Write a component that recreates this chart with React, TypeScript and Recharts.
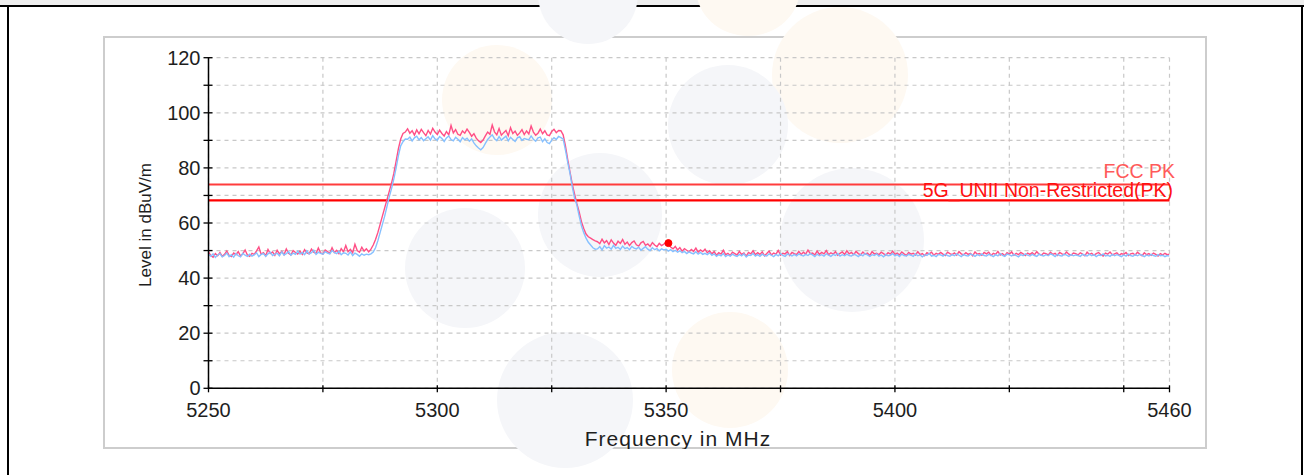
import React from 'react';
import { LineChart, Line, XAxis, YAxis, CartesianGrid, ReferenceLine, ReferenceDot, Label } from 'recharts';

// Sweep: 5250 .. 5460 MHz, one reading every 0.5 MHz
const FREQ_START = 5250;
const FREQ_STEP = 0.5;

// ---- Peak trace (red) ----
const PK_LOW = [
  49.5, 48.2, 47.6, 48.9, 48.1, 49.3, 47.9, 48.6, 49.8, 48.3, 47.8, 49.1, 48.5, 49.6, 48.0, 48.8, 50.2, 48.4, 47.9, 49.0,
  48.6, 49.9, 51.3, 48.7, 49.2, 48.1, 50.4, 48.9, 49.5, 48.3, 50.1, 48.8, 49.7, 48.5, 50.6, 49.0, 48.4, 50.0, 49.3, 48.7,
  49.8, 48.6, 50.3, 49.1, 48.8, 50.5, 49.4, 48.9, 50.9, 49.2, 48.7, 50.2, 49.6, 49.0, 51.0, 49.3, 50.1, 48.9, 50.7, 49.5,
  51.8, 49.6, 50.4, 49.2, 52.3, 50.0, 49.4, 51.2, 49.8, 50.6,
];
const PK_RISE = [49.5, 50.5, 52, 54, 56.5, 59.5, 62.5, 65.5, 68.5, 71.5, 74.5, 78, 82.5, 87, 90.5, 92.5, 93];
const PK_TOP = [
  94.2, 92.6, 93.5, 91.9, 93.8, 92.4, 94.0, 92.8, 91.7, 93.6, 92.3, 94.4, 93.0,
  92.1, 93.7, 92.5, 91.6, 93.2, 92.0, 95.4, 92.7, 93.9, 92.2, 91.8, 93.4, 92.6, 94.1, 92.9, 91.5, 92.4, 90.8, 89.9, 89.2,
  90.1, 91.6, 93.0, 92.2, 95.6, 93.1, 92.0, 94.3, 91.9, 92.8, 93.6, 91.7, 94.6, 92.5, 93.3, 91.8, 92.7, 93.9, 92.1, 93.4,
  92.3, 95.2, 93.0, 91.9, 92.6, 94.1, 92.4, 93.5, 92.0, 91.7, 93.2, 94.0, 92.8, 93.6,
];
const PK_FALL = [93.5, 92, 88, 83, 78.5, 74, 70.5, 67, 64, 60.5, 58, 56, 55, 54.5, 54, 53.5];
const PK_SHOULDER = [
  53.2, 52.5, 54.1, 52.8, 53.6, 52.2, 53.9, 52.7, 51.9, 53.4, 52.6, 54.0, 52.3, 53.1, 51.8, 52.9, 53.5, 52.1, 51.6, 52.8,
  53.3, 51.9, 52.4, 51.5, 52.9, 52.0, 51.4, 52.6, 51.8, 52.3,
];
const PK_DECAY = [
  53.0, 52.2, 51.3, 50.6, 51.5, 50.2, 51.1, 49.8, 50.7, 50.1, 49.5, 50.4, 49.7, 50.9, 49.4, 50.2, 49.6, 50.5, 49.2, 49.9,
];
const PK_TAIL = [
  48.8, 49.6, 48.3, 49.2, 48.7, 50.1, 48.5, 49.0, 48.2, 49.4, 48.9, 48.4, 49.7, 48.6, 49.1, 48.0, 49.3, 48.8, 49.9, 48.5,
  49.2, 48.6, 49.5, 48.1, 48.9, 49.8, 48.4, 49.1, 48.7, 50.0, 48.3, 49.0, 48.8, 49.6, 48.2, 49.3, 48.9, 48.5, 49.7, 48.6,
  49.4, 48.7, 50.2, 48.9, 49.1, 48.4, 49.8, 48.6, 49.3, 48.8, 50.0, 48.5, 49.2, 48.7, 49.6, 48.3, 49.0, 49.5, 48.6, 49.9,
  48.8, 49.3, 48.5, 49.7, 48.9, 48.4, 49.5, 48.7, 49.1, 48.2, 49.6, 48.8, 49.0, 48.5, 49.4, 48.9, 48.3, 49.2, 48.7, 49.8,
  48.6, 49.1, 48.4, 49.5, 48.8, 48.2, 49.3, 48.7, 49.0, 48.4, 49.6, 48.5, 48.9, 48.1, 49.2, 48.8, 49.4, 48.3, 49.0, 48.6,
  49.3, 48.7, 48.2, 49.4, 48.9, 48.5, 49.1, 48.3, 49.6, 48.8, 48.4, 49.2, 48.6, 49.0, 48.1, 49.5, 48.7, 48.9, 48.3, 49.3,
  48.8, 49.4, 48.2, 49.0, 48.6, 49.7, 48.4, 48.9, 48.1, 49.2, 48.7, 49.5, 48.3, 49.0, 48.5, 49.3, 48.8, 48.2, 49.1, 48.6,
  49.2, 48.5, 49.6, 48.7, 48.3, 49.1, 48.9, 48.4, 49.4, 48.6, 49.0, 48.2, 49.3, 48.8, 48.5, 49.5, 48.7, 48.3, 49.1, 48.9,
  48.4, 49.2, 48.7, 48.1, 49.4, 48.6, 49.0, 48.3, 48.9, 49.3, 48.5, 48.0, 49.1, 48.7, 49.5, 48.4, 48.8, 49.2, 48.3, 48.9,
  48.6, 49.3, 48.2, 48.8, 49.0, 48.4, 49.4, 48.7, 48.1, 49.2, 48.5, 48.9, 48.3, 49.1, 48.6, 48.0, 48.9, 48.4, 49.0, 48.5,
  48.7,
];

// ---- Second trace (blue) ----
const AV_LOW = [
  48.6, 47.9, 48.8, 47.5, 48.4, 48.9, 47.7, 48.2, 49.1, 47.8, 48.5, 47.6, 48.9, 48.1, 47.7, 49.0, 48.3, 47.9, 48.7, 48.0,
  48.4, 49.2, 47.8, 48.6, 48.9, 47.9, 48.8, 49.4, 48.2, 48.7, 49.0, 48.1, 49.5, 48.4, 48.9, 49.6, 48.3, 49.1, 48.6, 49.8,
  48.7, 49.3, 48.5, 49.9, 48.8, 49.2, 50.1, 48.6, 49.4, 49.0, 48.7, 49.6, 49.1, 48.8, 50.0, 49.3, 48.9, 49.7, 48.5, 49.2,
  49.0, 48.4, 49.5, 48.2, 49.1, 48.6, 47.9, 48.8, 48.3, 48.7,
];
const AV_RISE = [48.5, 48.8, 49.5, 51, 53.5, 56.5, 59.5, 62.5, 66, 69.5, 72.5, 76, 80, 84.5, 88, 89.5, 90.5];
const AV_TOP = [
  90.4, 91.2, 89.8, 90.9, 91.5, 90.2, 91.0, 89.9, 90.6, 91.3, 90.1, 91.7, 90.5,
  90.0, 91.4, 90.7, 89.6, 90.9, 91.6, 90.3, 89.8, 91.1, 90.4, 89.5, 91.0, 90.2, 90.8, 89.7, 90.5, 89.1, 88.0, 87.2, 86.6,
  87.4, 88.9, 90.3, 91.2, 92.0, 90.6, 89.9, 91.4, 90.1, 90.8, 91.5, 89.8, 91.1, 90.3, 89.6, 90.9, 91.3, 90.0, 90.7, 90.4,
  90.2, 91.6, 90.4, 89.7, 90.9, 91.2, 89.5, 90.6, 89.2, 88.8, 90.1, 91.0, 90.3, 91.4,
];
const AV_FALL = [91, 90.5, 86.5, 82, 78, 73, 69, 66.5, 62.5, 59, 56.5, 54.5, 53, 52, 51, 50.5];
const AV_SHOULDER = [
  50.6, 51.4, 50.2, 51.8, 50.9, 51.3, 50.5, 51.9, 50.8, 51.2, 50.4, 51.6, 50.7, 51.1, 50.3, 51.5, 50.9, 50.6, 51.2, 50.1,
  50.8, 51.4, 50.5, 50.0, 51.0, 50.3, 50.7, 49.9, 50.6, 50.2,
];
const AV_DECAY = [
  50.5, 49.8, 50.3, 49.6, 50.1, 49.4, 49.9, 49.2, 49.7, 48.9, 49.5, 49.1, 48.8, 49.6, 48.7, 49.3, 48.6, 49.0, 48.5, 49.2,
];
const AV_TAIL = [
  48.3, 48.8, 47.9, 48.5, 48.1, 48.9, 47.8, 48.4, 48.0, 48.7, 48.2, 47.9, 48.6, 48.1, 48.8, 47.7, 48.4, 48.2, 48.9, 48.0,
  48.5, 47.9, 48.7, 48.2, 48.0, 48.8, 48.3, 47.8, 48.6, 48.1, 48.9, 48.2, 47.9, 48.7, 48.4, 48.0, 48.6, 48.1, 48.8, 48.3,
  48.0, 48.6, 48.2, 48.9, 48.4, 47.8, 48.7, 48.1, 48.5, 48.0, 48.8, 48.3, 47.9, 48.6, 48.2, 48.9, 48.0, 48.5, 48.1, 48.7,
  48.2, 48.0, 48.7, 48.3, 47.8, 48.6, 48.1, 48.9, 48.4, 47.9, 48.5, 48.2, 48.8, 48.0, 48.4, 47.7, 48.6, 48.1, 48.3, 48.9,
  48.1, 48.5, 47.8, 48.7, 48.2, 48.0, 48.6, 48.3, 47.9, 48.8, 48.1, 48.4, 47.7, 48.5, 48.2, 48.9, 48.0, 48.3, 47.8, 48.6,
  48.4, 48.0, 48.7, 48.2, 47.9, 48.5, 48.1, 48.8, 48.3, 47.8, 48.6, 48.2, 48.0, 48.7, 48.4, 47.9, 48.5, 48.1, 48.8, 48.2,
  48.0, 48.6, 48.3, 47.8, 48.5, 48.1, 48.9, 48.2, 47.9, 48.7, 48.4, 48.0, 48.6, 48.2, 47.7, 48.5, 48.1, 48.8, 48.3, 48.0,
  48.6, 48.2, 47.9, 48.7, 48.3, 48.0, 48.5, 48.1, 48.8, 48.4, 47.8, 48.6, 48.2, 48.0, 48.7, 48.3, 47.9, 48.5, 48.1, 48.4,
  48.2, 47.9, 48.6, 48.3, 48.0, 48.7, 48.1, 48.5, 47.8, 48.4, 48.2, 48.8, 48.0, 48.3, 47.9, 48.6, 48.1, 48.5, 48.2, 47.8,
  48.4, 48.0, 48.7, 48.2, 47.9, 48.5, 48.1, 48.6, 48.3, 47.8, 48.4, 48.0, 48.6, 48.2, 47.9, 48.5, 48.1, 48.3, 47.8, 48.2,
  48.0,
];

const PK_TRACE = [...PK_LOW, ...PK_RISE, ...PK_TOP, ...PK_FALL, ...PK_SHOULDER, ...PK_DECAY, ...PK_TAIL];
const AV_TRACE = [...AV_LOW, ...AV_RISE, ...AV_TOP, ...AV_FALL, ...AV_SHOULDER, ...AV_DECAY, ...AV_TAIL];

const X_TICKS = [5250, 5275, 5300, 5325, 5350, 5375, 5400, 5425, 5450, 5460];
const X_LABELS = [5250, 5300, 5350, 5400, 5460];
const Y_TICKS = [0, 10, 20, 30, 40, 50, 60, 70, 80, 90, 100, 110, 120];
const Y_LABELS = [0, 20, 40, 60, 80, 100, 120];

const LIMIT_FCC = 74;
const LIMIT_UNII = 68.2;
const LIMIT_FCC_NAME = 'FCC PK';
const LIMIT_UNII_NAME = '5G_UNII Non-Restricted(PK)';
const MARKER_FREQ = 5350.5;
const MARKER_LEVEL = 52.7;

const X_TITLE = 'Frequency in MHz';
const Y_TITLE = 'Level in dBuV/m';

const data = PK_TRACE.map((v, i) => ({
  f: FREQ_START + i * FREQ_STEP,
  pk: v,
  av: AV_TRACE[i],
}));

const FONT = '"Liberation Sans", Arial, sans-serif';
const TEXT = '#1e1e1e';

const XTick = (props: any) => {
  const { x, y, payload } = props;
  const show = X_LABELS.includes(payload.value);
  return (
    <g>
      <line x1={x} x2={x} y1={y - 3} y2={y + 4} stroke="#000" strokeWidth={1.3} />
      {show && (
        <text x={x} y={y + 29} textAnchor="middle" fontSize={20} fontFamily={FONT} fill={TEXT}>
          {payload.value}
        </text>
      )}
    </g>
  );
};

const YTick = (props: any) => {
  const { x, y, payload } = props;
  const show = Y_LABELS.includes(payload.value);
  return (
    <g>
      <line x1={x - 5} x2={x + 4} y1={y} y2={y} stroke="#000" strokeWidth={1.3} />
      {show && (
        <text x={x - 8} y={y + 7} textAnchor="end" fontSize={20} fontFamily={FONT} fill={TEXT}>
          {payload.value}
        </text>
      )}
    </g>
  );
};

const YTitle = (props: any) => {
  const vb = props.viewBox;
  const cx = vb.x + vb.width - 63;
  const cy = vb.y + vb.height / 2 + 2;
  return (
    <text
      x={cx}
      y={cy}
      transform={`rotate(-90, ${cx}, ${cy})`}
      textAnchor="middle"
      dominantBaseline="central"
      fontSize={17}
      fontFamily={FONT}
      fill={TEXT}
    >
      {Y_TITLE}
    </text>
  );
};

const XTitle = (props: any) => {
  const vb = props.viewBox;
  return (
    <text
      x={vb.x + vb.width / 2 - 11}
      y={vb.y + 58}
      textAnchor="middle"
      fontSize={21}
      letterSpacing={1}
      fontFamily={FONT}
      fill={TEXT}
    >
      {X_TITLE}
    </text>
  );
};

const limitLabel = (text: string, color: string, dy: number, dx: number) => (props: any) => {
  const vb = props.viewBox;
  return (
    <text x={vb.x + vb.width + dx} y={vb.y + dy} textAnchor="end" fontSize={19.5} fontFamily={FONT} fill={color}>
      {text}
    </text>
  );
};

const WM_GRAY = '#f5f6f9';
const WM_ORANGE = '#fef9f2';

export default function App() {
  return (
    <div style={{ position: 'absolute', left: 0, top: 0, width: 1304, height: 475, background: '#fff', overflow: 'hidden' }}>
      <div style={{ position: 'absolute', left: 0, top: 0, width: 1304, height: 5, background: '#eeeeee' }} />
      <div style={{ position: 'absolute', left: 0, top: 5, width: 1304, height: 2, background: '#000' }} />
      <div style={{ position: 'absolute', left: 7, top: 5, width: 2, height: 470, background: '#000' }} />
      <div style={{ position: 'absolute', left: 1301, top: 5, width: 2, height: 470, background: '#000' }} />
      <div
        style={{
          position: 'absolute',
          left: 103,
          top: 36,
          width: 1104,
          height: 413,
          boxSizing: 'border-box',
          border: '2px solid #cdcdcd',
          background: '#fff',
        }}
      />
      <svg style={{ position: 'absolute', left: 0, top: 0 }} width={1304} height={475}>
        <ellipse cx={588} cy={-6} rx={50} ry={50} fill={WM_GRAY} />
        <ellipse cx={748} cy={-12} rx={52} ry={48} fill={WM_ORANGE} />
        <circle cx={497} cy={100} r={55} fill={WM_ORANGE} />
        <circle cx={840} cy={75} r={68} fill={WM_ORANGE} />
        <circle cx={728} cy={125} r={60} fill={WM_GRAY} />
        <circle cx={600} cy={215} r={62} fill={WM_GRAY} />
        <circle cx={465} cy={268} r={60} fill={WM_GRAY} />
        <circle cx={565} cy={400} r={68} fill={WM_GRAY} />
        <circle cx={852} cy={240} r={72} fill={WM_GRAY} />
        <circle cx={730} cy={370} r={58} fill={WM_ORANGE} />
      </svg>
      <div style={{ position: 'absolute', left: 103, top: 36 }}>
        <LineChart
          width={1104}
          height={413}
          data={data}
          margin={{ top: 21.7, right: 37.5, bottom: 0, left: 0 }}
        >
          <CartesianGrid strokeDasharray="4 4" stroke="#c8c8c8" strokeWidth={1.2} />
          <XAxis
            dataKey="f"
            type="number"
            domain={[5250, 5460]}
            ticks={X_TICKS}
            interval={0}
            height={60.7}
            tickSize={0}
            tickMargin={0}
            tickLine={false}
            axisLine={{ stroke: '#000', strokeWidth: 1.5 }}
            tick={<XTick />}
            allowDataOverflow
          >
            <Label content={<XTitle />} />
          </XAxis>
          <YAxis
            type="number"
            domain={[0, 120]}
            ticks={Y_TICKS}
            interval={0}
            width={105.5}
            tickSize={0}
            tickMargin={0}
            tickLine={false}
            axisLine={{ stroke: '#000', strokeWidth: 1.5 }}
            tick={<YTick />}
            allowDataOverflow
          >
            <Label content={<YTitle />} />
          </YAxis>
          <ReferenceLine
            y={LIMIT_FCC}
            stroke="#ff3c3c"
            strokeWidth={2}
            label={limitLabel(LIMIT_FCC_NAME, '#ff5a5a', -6, 5.5)}
          />
          <ReferenceLine
            y={LIMIT_UNII}
            stroke="#ff0000"
            strokeWidth={2.2}
            label={limitLabel(LIMIT_UNII_NAME, '#ff1010', -3, 3.5)}
          />
          <Line
            type="linear"
            dataKey="pk"
            stroke="#ff4f86"
            strokeWidth={1.4}
            dot={false}
            activeDot={false}
            isAnimationActive={false}
          />
          <Line
            type="linear"
            dataKey="av"
            stroke="#86c0ff"
            strokeWidth={1.4}
            dot={false}
            activeDot={false}
            isAnimationActive={false}
          />
          <ReferenceDot x={MARKER_FREQ} y={MARKER_LEVEL} r={3.5} fill="#ff0000" stroke="#ff0000" strokeWidth={1} />
        </LineChart>
      </div>
    </div>
  );
}
